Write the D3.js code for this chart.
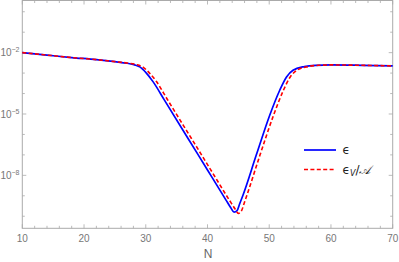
<!DOCTYPE html>
<html><head><meta charset="utf-8">
<script src="https://cdn.jsdelivr.net/npm/d3@7"></script>
<style>body{margin:0;background:#fff}svg{display:block}</style>
</head><body>
<svg id="c" width="399" height="262"></svg>
<script>
const xTicks = [10, 20, 30, 40, 50, 60, 70];
const yMajorExp = [-2, -5, -8];
const yMinorExp = [0, -1, -2, -3, -4, -5, -6, -7, -8, -9, -10];

const epsN =   [10, 14, 18, 22, 25, 27, 28.2, 29.1, 30.1, 31.2, 33, 36.9, 40, 43, 43.8, 44.3, 44.8, 45.2, 45.76, 47.9, 50.08, 51.7, 52.8, 53.85, 55.7, 57.5, 60, 65, 70];
const epsVal = [1.00e-2, 7.59e-3, 5.75e-3, 4.57e-3, 3.63e-3, 3.02e-3, 2.51e-3, 1.95e-3, 1.00e-3, 3.72e-4, 4.90e-5, 6.03e-7, 1.82e-8, 6.17e-10, 2.51e-10, 1.58e-10, 1.91e-10, 3.98e-10, 1.10e-9, 9.77e-8, 8.71e-6, 1.45e-4, 6.46e-4, 1.38e-3, 2.09e-3, 2.40e-3, 2.51e-3, 2.40e-3, 2.24e-3];

const epsVN =   [10, 14, 18, 22, 25, 27, 28.4, 29.6, 30.6, 31.7, 33.5, 37.4, 40.5, 43.6, 44.5, 45.0, 45.5, 45.9, 46.4, 48.5, 50.7, 52.3, 53.4, 54.5, 56.3, 58, 60, 65, 70];
const epsVVal = [1.00e-2, 7.59e-3, 5.75e-3, 4.57e-3, 3.63e-3, 3.09e-3, 2.63e-3, 1.91e-3, 1.00e-3, 3.98e-4, 5.13e-5, 6.31e-7, 1.91e-8, 5.75e-10, 2.19e-10, 1.38e-10, 1.82e-10, 3.98e-10, 1.10e-9, 9.77e-8, 8.71e-6, 1.45e-4, 6.46e-4, 1.38e-3, 2.09e-3, 2.40e-3, 2.51e-3, 2.40e-3, 2.24e-3];

const svg = d3.select("#c");
const L = 22.3, R = 392.7, T = 0.5, B = 228.3;
const x = d3.scaleLinear().domain([10, 70]).range([L, R]);
const y = d3.scaleLog().domain([Math.pow(10, -10.59), Math.pow(10, 0.55)]).range([B, T]);

const axisCol = "#aaa", labCol = "#777";
// frame
svg.append("rect").attr("x", L).attr("y", T).attr("width", R - L).attr("height", B - T)
  .attr("fill", "none").attr("stroke", axisCol).attr("stroke-width", 1);

// x ticks
const xMinor = d3.range(10, 70.01, 2);
const g = svg.append("g").attr("stroke", axisCol).attr("stroke-width", 0.8);
xMinor.forEach(v => {
  const isMaj = xTicks.includes(v);
  const len = isMaj ? 4 : 2.5;
  g.append("line").attr("x1", x(v)).attr("x2", x(v)).attr("y1", B).attr("y2", B - len);
  g.append("line").attr("x1", x(v)).attr("x2", x(v)).attr("y1", T).attr("y2", T + len);
});
yMinorExp.forEach(e => {
  const isMaj = yMajorExp.includes(e);
  const len = isMaj ? 4 : 2.5;
  const yy = y(Math.pow(10, e));
  g.append("line").attr("x1", L).attr("x2", L + len).attr("y1", yy).attr("y2", yy);
  g.append("line").attr("x1", R).attr("x2", R - len).attr("y1", yy).attr("y2", yy);
});

// x labels
svg.append("g").selectAll("text").data(xTicks).join("text")
  .attr("x", d => x(d)).attr("y", 241.5).attr("text-anchor", "middle")
  .attr("font-family", "Liberation Sans, Arial, sans-serif").attr("font-size", 10)
  .attr("fill", labCol).text(d => d);

// y labels
yMajorExp.forEach(e => {
  const t = svg.append("text").attr("x", 19.5).attr("y", y(Math.pow(10, e)) + 3.8)
    .attr("text-anchor", "end").attr("font-family", "Liberation Sans, Arial, sans-serif")
    .attr("font-size", 10).attr("fill", labCol);
  t.append("tspan").text("10");
  t.append("tspan").attr("dy", -4).attr("font-size", 7).text("\u2212" + Math.abs(e));
});

// axis title
svg.append("text").attr("x", 208).attr("y", 258).attr("text-anchor", "middle")
  .attr("font-family", "Liberation Sans, Arial, sans-serif").attr("font-size", 12)
  .attr("fill", "#666").text("N");

// lines
const line = d3.line().x(d => x(d[0])).y(d => y(d[1])).curve(d3.curveMonotoneX);
svg.append("path").datum(d3.zip(epsN, epsVal)).attr("d", line)
  .attr("fill", "none").attr("stroke", "#0000ff").attr("stroke-width", 1.7);
svg.append("path").datum(d3.zip(epsVN, epsVVal)).attr("d", line)
  .attr("fill", "none").attr("stroke", "#ff0000").attr("stroke-width", 1.6)
  .attr("stroke-dasharray", "4,2.4");

// legend
svg.append("line").attr("x1", 304).attr("x2", 336).attr("y1", 150).attr("y2", 150)
  .attr("stroke", "#0000ff").attr("stroke-width", 1.7);
svg.append("line").attr("x1", 304).attr("x2", 336).attr("y1", 169.5).attr("y2", 169.5)
  .attr("stroke", "#ff0000").attr("stroke-width", 1.6).attr("stroke-dasharray", "4,2.4");
svg.append("text").attr("x", 342.5).attr("y", 154).attr("font-family", "DejaVu Sans, sans-serif")
  .attr("font-size", 12).attr("fill", "#222").text("\u03F5");
const lt = svg.append("text").attr("x", 342.5).attr("y", 173.5).attr("font-family", "DejaVu Sans, sans-serif")
  .attr("font-size", 12).attr("fill", "#222");
lt.append("tspan").text("\u03F5");
lt.append("tspan").attr("dy", 2).attr("font-size", 8).attr("font-style", "italic").text("V");
lt.append("tspan").attr("dy", -2).text("/");
lt.append("tspan").attr("font-style", "italic").text("\u{1D49C}");
</script>
</body></html>
